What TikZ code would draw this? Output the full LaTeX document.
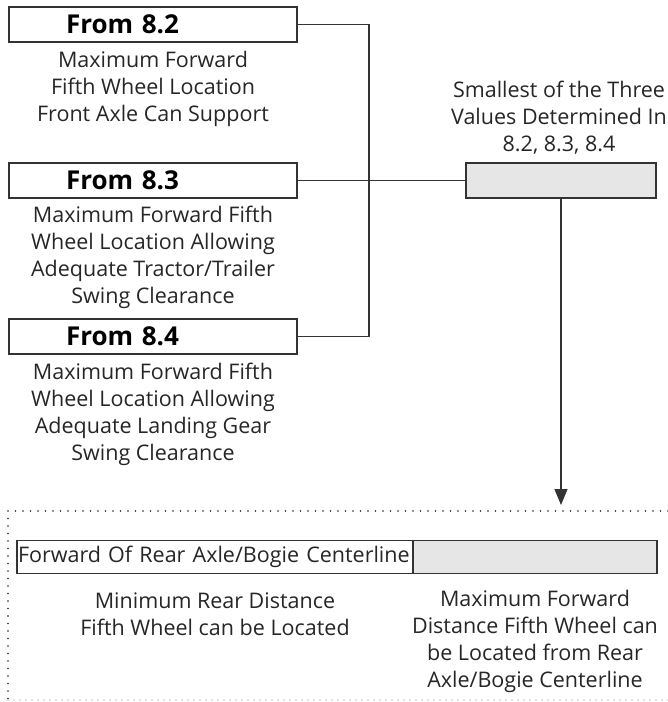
\documentclass[tikz,border=0pt]{standalone}
\usepackage{fontspec}
\setmainfont{Open Sans}
\usepackage{xcolor}
\usetikzlibrary{arrows.meta}
\definecolor{linegray}{HTML}{333333}
\definecolor{boxfill}{HTML}{E6E6E6}
\tikzset{
  srcbox/.style={draw=linegray, line width=1.2pt, minimum height=35pt, text width=174pt,
    inner xsep=57pt, align=left, font=\fontsize{26}{30}\selectfont\bfseries},
  desc/.style={align=center, font=\fontsize{21.5}{27}\selectfont, text=black!85},
  conn/.style={draw=linegray, line width=1.2pt},
}

\begin{document}
\begin{tikzpicture}[x=1pt, y=-1pt]
\useasboundingbox (0,0) rectangle (668,702);
% the three inputs
\node[srcbox] (from82) at (153,24.5) {From 8.2};
\node[srcbox] (from83) at (153,180.5) {From 8.3};
\node[srcbox] (from84) at (153,336.5) {From 8.4};
\node[desc] (desc82) at (153,89) {Maximum Forward\\Fifth Wheel Location\\Front Axle Can Support};
\node[desc] (desc83) at (153,257.5) {Maximum Forward Fifth\\Wheel Location Allowing\\Adequate Tractor/Trailer\\Swing Clearance};
\node[desc] (desc84) at (153,414) {Maximum Forward Fifth\\Wheel Location Allowing\\Adequate Landing Gear\\Swing Clearance};
% smallest value
\node[draw=linegray, line width=1.2pt, fill=boxfill, minimum width=190pt, minimum height=35pt] (minval) at (561,180.5) {};
\node[desc] (mintext) at (559,118) {Smallest of the Three\\Values Determined In\\8.2, 8.3, 8.4};
\coordinate (jn) at (369,180.5);
\draw[conn] (from82.east) -| (jn) |- (from84.east);
\draw[conn] (from83.east) -- (minval.west);
\coordinate (tip) at (561,505);
\draw[conn, -{Triangle[length=16pt,width=13pt]}] (minval.south) -- (tip);
% result frame
\draw[black!85, line width=1.7pt, dash pattern=on 0pt off 7.5pt, line cap=round] (668,511) -- (8,511) -- (8,700);
\draw[black!45, line width=1.2pt, dash pattern=on 0pt off 6pt, line cap=round] (8,700) -- (668,700);
\node[draw=linegray, line width=1.2pt, minimum width=396pt, minimum height=33pt, inner xsep=1pt,
  text width=394pt, align=left, font=\fontsize{21.5}{24}\selectfont, text=black!85] (rearbar) at (215,557) {Forward Of Rear Axle/Bogie Centerline};
\node[draw=linegray, line width=1.2pt, fill=boxfill, minimum width=244pt, minimum height=33pt] (fwdbar) at (535,557) {};
\node[desc] (mindist) at (215,614) {Minimum Rear Distance\\Fifth Wheel can be Located};
\node[desc] (maxdist) at (535,641.5) {Maximum Forward\\Distance Fifth Wheel can\\be Located from Rear\\Axle/Bogie Centerline};
\end{tikzpicture}
\end{document}
